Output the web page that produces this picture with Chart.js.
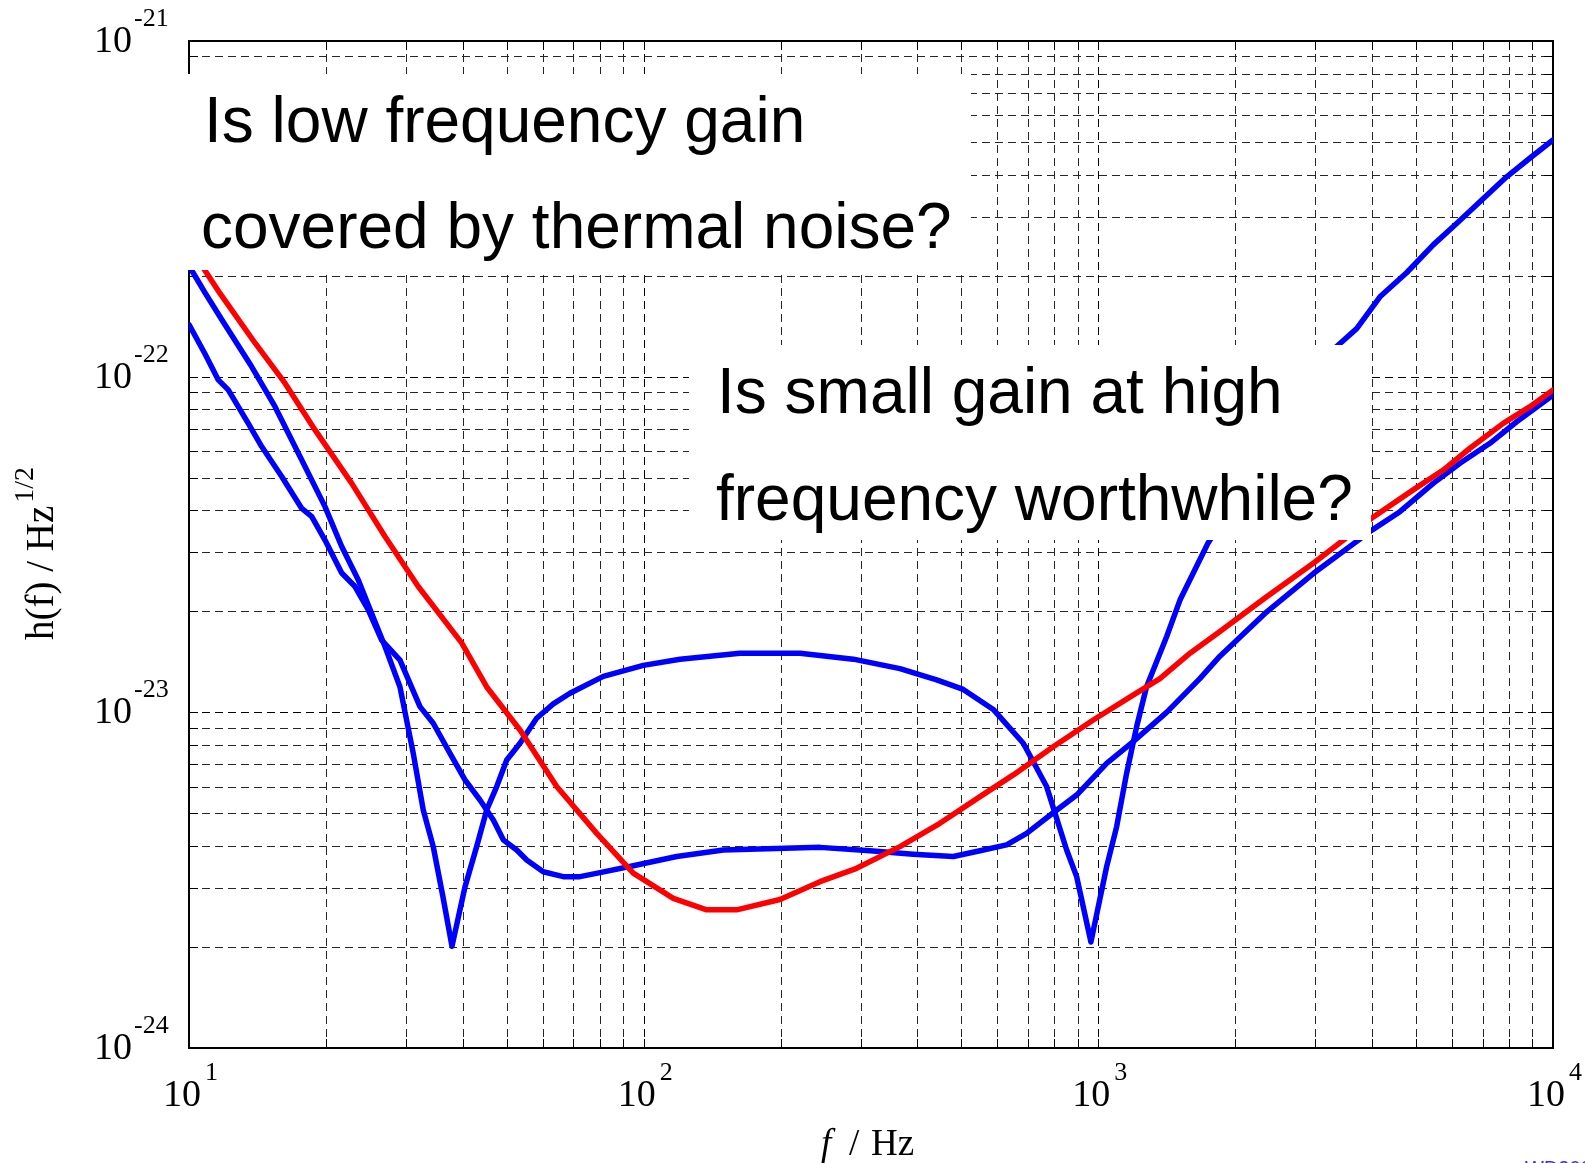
<!DOCTYPE html>
<html><head><meta charset="utf-8">
<script src="https://cdn.jsdelivr.net/npm/chart.js@4/dist/chart.umd.min.js"></script>
<style>html,body{margin:0;padding:0;background:#fff;overflow:hidden}canvas{display:block}</style>
</head><body>
<canvas id="c" width="1585" height="1163"></canvas>
<script>
// ---- data (frequency in Hz, strain in 1/sqrt(Hz)) ----
const freqRed = [10, 11.7, 13.97, 16.26, 18.93, 22.8, 26.98, 31.93, 39.78, 45.16, 53.46, 64.38, 78.84, 94.86, 116.2, 137.6, 160.1, 199.4, 244.2, 294.0, 366.2, 448.3, 549.2, 650.1, 795.7, 974.5, 1173, 1366, 1591, 1851, 2325, 2980, 3997, 4926, 5735, 6565, 7771, 8896, 10000];
const hRed = [2.45e-22, 1.77e-22, 1.26e-22, 9.56e-23, 6.94e-23, 4.81e-23, 3.34e-23, 2.37e-23, 1.61e-23, 1.19e-23, 8.86e-24, 6.01e-24, 4.36e-24, 3.32e-24, 2.79e-24, 2.58e-24, 2.58e-24, 2.77e-24, 3.13e-24, 3.43e-24, 3.98e-24, 4.67e-24, 5.61e-24, 6.51e-24, 7.90e-24, 9.49e-24, 1.11e-23, 1.26e-23, 1.50e-23, 1.74e-23, 2.19e-23, 2.79e-23, 3.79e-23, 4.60e-23, 5.27e-23, 6.12e-23, 7.26e-23, 8.14e-23, 9.13e-23];

const freqNarrow = [10, 10.84, 11.8, 13.74, 15.46, 17.7, 19.91, 21.67, 23.57, 25.22, 26.98, 29.11, 31.13, 32.75, 34.45, 36.19, 37.88, 40.46, 42.92, 45.16, 47.51, 49.98, 53.46, 58.16, 63.27, 68.85, 81.52, 99.8, 120.2, 162.8, 220.7, 289.1, 366.2, 441.0, 504.6, 587.4, 683.8, 769.6, 851.8, 896.0, 963.1, 1043, 1097, 1154, 1214, 1276, 1413, 1512, 1742, 2267, 2776, 3343, 3700, 4163, 4764, 5452, 6138, 6906, 7907, 8973, 10000];
const hNarrow = [2.14e-22, 1.78e-22, 1.48e-22, 1.07e-22, 8.14e-23, 5.65e-23, 4.10e-23, 3.12e-23, 2.48e-23, 1.97e-23, 1.57e-23, 1.19e-23, 7.55e-24, 5.12e-24, 3.98e-24, 2.82e-24, 2.01e-24, 3.02e-24, 3.98e-24, 5.12e-24, 6.01e-24, 7.21e-24, 8.09e-24, 9.60e-24, 1.06e-23, 1.14e-23, 1.28e-23, 1.38e-23, 1.44e-23, 1.50e-23, 1.50e-23, 1.44e-23, 1.35e-23, 1.25e-23, 1.17e-23, 1.02e-23, 8.09e-24, 6.01e-24, 3.89e-24, 3.24e-24, 2.07e-24, 3.47e-24, 4.56e-24, 6.58e-24, 9.06e-24, 1.19e-23, 1.68e-23, 2.16e-23, 3.19e-23, 5.65e-23, 8.82e-23, 1.23e-22, 1.39e-22, 1.73e-22, 2.04e-22, 2.47e-22, 2.86e-22, 3.32e-22, 3.94e-22, 4.52e-22, 5.07e-22];

const freqBroad = [10, 10.84, 11.6, 12.2, 13.5, 14.45, 15.99, 17.7, 18.62, 19.91, 21.67, 23.18, 24.79, 26.53, 29.11, 32.21, 34.45, 37.5, 40.46, 43.65, 46.7, 49.12, 52.57, 55.3, 60.14, 66.56, 72.43, 80.16, 94.86, 118.2, 149.7, 244.2, 314.6, 391.6, 479.7, 549.2, 628.4, 695.6, 795.7, 896.0, 1043, 1193, 1413, 1672, 1851, 2325, 2980, 3997, 4606, 5452, 6242, 7265, 8318, 10000];
const hBroad = [1.43e-22, 1.17e-22, 9.78e-23, 9.13e-23, 7.26e-23, 6.19e-23, 5.04e-23, 4.05e-23, 3.83e-23, 3.26e-23, 2.60e-23, 2.37e-23, 2.02e-23, 1.64e-23, 1.43e-23, 1.04e-23, 9.28e-24, 7.55e-24, 6.29e-24, 5.48e-24, 4.78e-24, 4.17e-24, 3.89e-24, 3.63e-24, 3.35e-24, 3.24e-24, 3.24e-24, 3.33e-24, 3.49e-24, 3.72e-24, 3.89e-24, 3.96e-24, 3.87e-24, 3.78e-24, 3.72e-24, 3.87e-24, 4.03e-24, 4.36e-24, 5.02e-24, 5.67e-24, 7.05e-24, 8.18e-24, 1.00e-23, 1.26e-23, 1.47e-23, 1.97e-23, 2.60e-23, 3.49e-23, 3.96e-23, 4.81e-23, 5.52e-23, 6.33e-23, 7.34e-23, 8.82e-23];

const xTickExps = [1, 2, 3, 4];
const yTickExps = [-24, -23, -22, -21];
const gridMantissas = [1, 2, 3, 4, 5, 6, 7, 8, 9];
const note1 = ["Is low frequency gain", "covered by thermal noise?"];
const note2 = ["Is small gain at high", "frequency worthwhile?"];
const xTitleParts = ["f", "/", "Hz"];
const yTitleMain = "h(f) / Hz";
const yTitleSup = "1/2";
const cornerText = "WD2003";

function pairs(f, h) { return f.map((v, i) => ({ x: v, y: h[i] })); }

const SERIF = '"Liberation Serif", "Times New Roman", serif';
const SANS = '"Liberation Sans", Arial, sans-serif';

const decorPlugin = {
  id: 'decor',
  beforeDatasetsDraw(chart) {
    const ctx = chart.ctx, a = chart.chartArea;
    const xs = chart.scales.x, ys = chart.scales.y;
    ctx.save();
    ctx.lineWidth = 1;
    ctx.setLineDash([8, 5]);
    for (let k = 1; k <= 3; k++) {
      for (const m of gridMantissas) {
        if (m === 1 && k === 1) continue;
        const px = Math.round(xs.getPixelForValue(m * Math.pow(10, k))) + 0.5;
        ctx.strokeStyle = m === 1 ? '#000' : '#262626';
        ctx.beginPath(); ctx.moveTo(px, a.top); ctx.lineTo(px, a.bottom); ctx.stroke();
      }
    }
    for (let k = -24; k <= -22; k++) {
      for (const m of gridMantissas) {
        if (m === 1 && k === -24) continue;
        const py = Math.round(ys.getPixelForValue(m * Math.pow(10, k))) + 0.5;
        ctx.strokeStyle = m === 1 ? '#000' : '#262626';
        ctx.beginPath(); ctx.moveTo(a.left, py); ctx.lineTo(a.right, py); ctx.stroke();
      }
    }
    ctx.setLineDash([]);
    ctx.strokeStyle = '#000';
    const tl = 9;
    for (let k = 1; k <= 3; k++) {
      for (const m of gridMantissas) {
        const px = Math.round(xs.getPixelForValue(m * Math.pow(10, k))) + 0.5;
        ctx.beginPath();
        ctx.moveTo(px, a.bottom); ctx.lineTo(px, a.bottom - tl);
        ctx.moveTo(px, a.top); ctx.lineTo(px, a.top + tl);
        ctx.stroke();
      }
    }
    for (let k = -24; k <= -22; k++) {
      for (const m of gridMantissas) {
        const py = Math.round(ys.getPixelForValue(m * Math.pow(10, k))) + 0.5;
        ctx.beginPath();
        ctx.moveTo(a.left, py); ctx.lineTo(a.left + tl, py);
        ctx.moveTo(a.right, py); ctx.lineTo(a.right - tl, py);
        ctx.stroke();
      }
    }
    ctx.lineWidth = 2;
    ctx.strokeRect(a.left, a.top, a.right - a.left, a.bottom - a.top);
    ctx.restore();
  },
  afterDatasetsDraw(chart) {
    const ctx = chart.ctx;
    ctx.save();
    ctx.fillStyle = '#fff';
    ctx.fillRect(175, 74, 971 - 175, 270 - 74);
    ctx.fillRect(689, 345, 1371 - 689, 540 - 345);
    ctx.fillStyle = '#000';
    ctx.font = '64px ' + SANS;
    ctx.textAlign = 'left';
    ctx.textBaseline = 'alphabetic';
    ctx.fillText(note1[0], 204, 142);
    ctx.fillText(note1[1], 201, 248);
    ctx.fillText(note2[0], 717, 413);
    ctx.fillText(note2[1], 716, 520);
    ctx.restore();
  },
  afterDraw(chart) {
    const ctx = chart.ctx, a = chart.chartArea;
    const xs = chart.scales.x, ys = chart.scales.y;
    ctx.save();
    ctx.fillStyle = '#000';
    ctx.textBaseline = 'alphabetic';
    for (const e of yTickExps) {
      const py = ys.getPixelForValue(Math.pow(10, e));
      ctx.font = '38px ' + SERIF; ctx.textAlign = 'right';
      ctx.fillText('10', 132, py + 11);
      ctx.font = '26px ' + SERIF; ctx.textAlign = 'left';
      ctx.fillText(String(e), 134, py - 15);
    }
    for (const e of xTickExps) {
      const px = xs.getPixelForValue(Math.pow(10, e));
      ctx.font = '38px ' + SERIF; ctx.textAlign = 'right';
      ctx.fillText('10', px + 12, a.bottom + 58);
      ctx.font = '26px ' + SERIF; ctx.textAlign = 'left';
      ctx.fillText(String(e), px + 16, a.bottom + 32);
    }
    ctx.textAlign = 'left';
    ctx.font = 'italic 37px ' + SERIF;
    ctx.fillText(xTitleParts[0], 821, 1155);
    ctx.font = '37px ' + SERIF;
    ctx.fillText(xTitleParts[1], 849, 1155);
    ctx.fillText(xTitleParts[2], 871, 1155);
    ctx.translate(53, 640);
    ctx.rotate(-Math.PI / 2);
    ctx.font = '39px ' + SERIF;
    ctx.fillText(yTitleMain, 0, 0);
    const w = ctx.measureText(yTitleMain).width;
    ctx.font = '28px ' + SERIF;
    ctx.fillText(yTitleSup, w + 3, -20);
    ctx.setTransform(1, 0, 0, 1, 0, 0);
    ctx.fillStyle = '#3030e0';
    ctx.font = '20px ' + SANS;
    ctx.fillText(cornerText, 1525, 1175);
    ctx.restore();
  }
};

const lineStyle = { borderWidth: 5.5, pointRadius: 0, tension: 0, borderJoinStyle: 'round', borderCapStyle: 'round', fill: false };

new Chart(document.getElementById('c'), {
  type: 'line',
  data: {
    datasets: [
      Object.assign({ label: 'red', data: pairs(freqRed, hRed), borderColor: '#ff0000' }, lineStyle),
      Object.assign({ label: 'broadband', data: pairs(freqBroad, hBroad), borderColor: '#0000ff' }, lineStyle),
      Object.assign({ label: 'detuned', data: pairs(freqNarrow, hNarrow), borderColor: '#0000ff' }, lineStyle)
    ]
  },
  options: {
    responsive: false,
    animation: false,
    devicePixelRatio: 1,
    layout: { padding: { left: 189, right: 32, top: 41, bottom: 115 } },
    plugins: { legend: { display: false }, tooltip: { enabled: false } },
    scales: {
      x: { type: 'logarithmic', min: 10, max: 10000, display: false },
      y: { type: 'logarithmic', min: 1e-24, max: 1e-21, display: false }
    }
  },
  plugins: [decorPlugin]
});
</script>
</body></html>
